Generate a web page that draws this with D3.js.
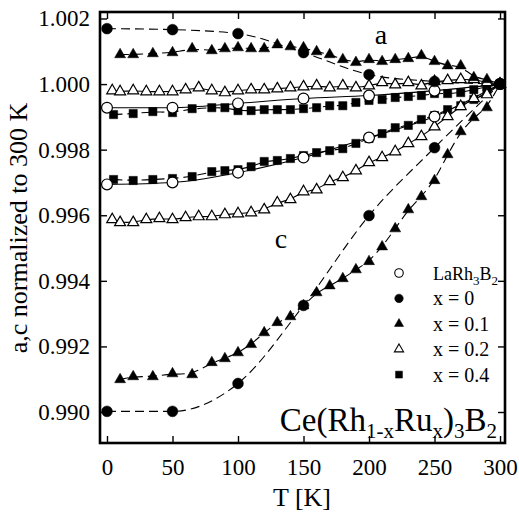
<!DOCTYPE html>
<html>
<head>
<meta charset="utf-8">
<script src="https://cdn.jsdelivr.net/npm/d3@7"></script>
<style>
  html, body { margin: 0; padding: 0; background: #fff; }
  svg text { font-family: "Liberation Serif", "Times New Roman", "DejaVu Serif", serif; fill: #000; }
</style>
</head>
<body>
<script>
// data (a = upper group, c = lower group)
const tCircles = [0, 50, 100, 150, 200, 250, 300];
const laA = [0.99928, 0.99928, 0.99941, 0.99956, 0.99965, 0.99980, 1.0];
const laC = [0.99694, 0.99700, 0.99730, 0.99776, 0.99837, 0.99901, 1.0];
const x0A = [1.00169, 1.00166, 1.00154, 1.00096, 1.00029, 1.00008, 1.0];
const x0C = [0.99002, 0.99002, 0.99087, 0.99325, 0.99599, 0.99806, 1.0];

const tX01 = [10, 20, 35, 50, 65, 80, 90, 100, 110, 120, 130, 140, 150, 160, 170, 180, 190, 200, 210, 220, 230, 240, 250, 260, 270, 280, 290, 300];
const x01A = [1.00090, 1.00090, 1.00093, 1.00096, 1.00108, 1.00102, 1.00108, 1.00111, 1.00108, 1.00108, 1.00120, 1.00114, 1.00111, 1.00099, 1.00090, 1.00075, 1.00066, 1.00075, 1.00069, 1.00075, 1.00078, 1.00087, 1.00069, 1.00056, 1.00056, 1.00020, 1.00014, 1.0];
const x01C = [0.99099, 0.99108, 0.99108, 0.99117, 0.99114, 0.99151, 0.99163, 0.99181, 0.99206, 0.99242, 0.99273, 0.99291, 0.99324, 0.99364, 0.99385, 0.99407, 0.99434, 0.99459, 0.99504, 0.99559, 0.99617, 0.99657, 0.99706, 0.99785, 0.99855, 0.99898, 0.99928, 1.0];

const tX02 = [4, 10, 20, 30, 40, 50, 60, 70, 80, 90, 100, 110, 120, 130, 140, 150, 160, 170, 180, 190, 200, 210, 220, 230, 240, 250, 260, 270, 280, 290, 300];
const x02A = [0.99980, 0.99977, 0.99980, 0.99977, 0.99977, 0.99977, 0.99983, 0.99989, 0.99980, 0.99974, 0.99980, 0.99983, 0.99983, 0.99986, 0.99989, 0.99992, 0.99995, 0.99989, 0.99995, 0.99989, 0.99995, 1.00005, 0.99998, 1.00005, 0.99995, 1.00008, 1.00011, 1.00014, 1.00014, 1.00005, 1.0];
const x02C = [0.99587, 0.99578, 0.99578, 0.99587, 0.99590, 0.99587, 0.99593, 0.99596, 0.99596, 0.99602, 0.99605, 0.99608, 0.99617, 0.99638, 0.99648, 0.99672, 0.99678, 0.99703, 0.99715, 0.99736, 0.99761, 0.99776, 0.99794, 0.99819, 0.99840, 0.99870, 0.99901, 0.99932, 0.99956, 0.99968, 1.0];

const tX04 = [5, 20, 35, 50, 65, 80, 90, 100, 110, 120, 130, 140, 150, 160, 170, 180, 190, 200, 210, 220, 230, 240, 250, 260, 270, 280, 290, 300];
const x04A = [0.99907, 0.99910, 0.99916, 0.99913, 0.99925, 0.99928, 0.99928, 0.99919, 0.99919, 0.99922, 0.99922, 0.99922, 0.99925, 0.99928, 0.99934, 0.99934, 0.99944, 0.99950, 0.99953, 0.99959, 0.99962, 0.99965, 0.99971, 0.99971, 0.99974, 0.99983, 0.99992, 1.0];
const x04C = [0.99709, 0.99706, 0.99709, 0.99712, 0.99718, 0.99733, 0.99736, 0.99739, 0.99748, 0.99764, 0.99767, 0.99773, 0.99782, 0.99791, 0.99797, 0.99803, 0.99819, 0.99834, 0.99849, 0.99867, 0.99874, 0.99892, 0.99904, 0.99922, 0.99934, 0.99953, 0.99974, 1.0];

const xTicks = [0, 50, 100, 150, 200, 250, 300];
const yTicks = [0.990, 0.992, 0.994, 0.996, 0.998, 1.000, 1.002];

const W = 519, H = 519;
const plot = {left: 100, top: 12, right: 505, bottom: 443};
const FONT = '"Liberation Serif", "Times New Roman", serif';

const svg = d3.select("body").append("svg")
  .attr("width", W).attr("height", H)
  .attr("font-family", FONT);

const x = d3.scaleLinear().domain([-5.34, 303.8]).range([plot.left, plot.right]);
const y = d3.scaleLinear().domain([0.989055, 1.002198]).range([plot.bottom, plot.top]);

// series: marker kind, line style
const series = [
  {t: tX04, a: x04A, c: x04C, sym: "square", dash: true, curve: d3.curveBasis},
  {t: tX02, a: x02A, c: x02C, sym: "otri", dash: false, curve: d3.curveBasis},
  {t: tCircles, a: laA, c: laC, sym: "ocircle", dash: false, curve: d3.curveMonotoneX},
  {t: tX01, a: x01A, c: x01C, sym: "tri", dash: true, curve: d3.curveBasis},
  {t: tCircles, a: x0A, c: x0C, sym: "circle", dash: true, curve: d3.curveMonotoneX},
];

function symPath(kind, scale) {
  const s = scale || 1;
  if (kind === "circle" || kind === "ocircle") return d3.symbol(d3.symbolCircle, 92 * s)();
  if (kind === "tri" || kind === "otri") return d3.symbol(d3.symbolTriangle, 52 * s)();
  return d3.symbol(d3.symbolSquare, 68 * s)();
}
function isOpen(kind) { return kind === "ocircle" || kind === "otri"; }

const linesLayer = svg.append("g");
const marksLayer = svg.append("g");

series.forEach(s => {
  ["a", "c"].forEach(k => {
    const pts = s.t.map((t, i) => [t, s[k][i]]);
    linesLayer.append("path")
      .datum(pts)
      .attr("fill", "none")
      .attr("stroke", "#000")
      .attr("stroke-width", 1.1)
      .attr("stroke-dasharray", s.dash ? "9,5" : null)
      .attr("d", d3.line().x(d => x(d[0])).y(d => y(d[1])).curve(s.curve));
  });
});

series.forEach(s => {
  ["a", "c"].forEach(k => {
    const pts = s.t.map((t, i) => [t, s[k][i]]);
    marksLayer.append("g").selectAll("path")
      .data(pts)
      .join("path")
      .attr("transform", d => `translate(${x(d[0])},${y(d[1])})`)
      .attr("d", symPath(s.sym))
      .attr("fill", isOpen(s.sym) ? "#fff" : "#000")
      .attr("stroke", "#000")
      .attr("stroke-width", isOpen(s.sym) ? 1.2 : 0.5);
  });
});

// axes (ticks inward on all four sides)
const fs = 23;
const bottomAxis = svg.append("g")
  .attr("transform", `translate(0,${plot.bottom})`)
  .call(d3.axisBottom(x).tickValues(xTicks).tickSize(-7).tickPadding(16).tickFormat(d3.format("d")));
const topAxis = svg.append("g")
  .attr("transform", `translate(0,${plot.top})`)
  .call(d3.axisTop(x).tickValues(xTicks).tickSize(-7).tickFormat(""));
const leftAxis = svg.append("g")
  .attr("transform", `translate(${plot.left},0)`)
  .call(d3.axisLeft(y).tickValues(yTicks).tickSize(-7).tickPadding(10).tickFormat(d3.format(".3f")));
const rightAxis = svg.append("g")
  .attr("transform", `translate(${plot.right},0)`)
  .call(d3.axisRight(y).tickValues(yTicks).tickSize(-7).tickFormat(""));

[bottomAxis, topAxis, leftAxis, rightAxis].forEach(g => {
  g.attr("font-family", FONT);
  g.select(".domain").remove();
  g.selectAll(".tick line").attr("stroke", "#000").attr("stroke-width", 1.4);
  g.selectAll(".tick text").attr("font-size", fs).attr("fill", "#000");
});

svg.append("rect")
  .attr("x", plot.left).attr("y", plot.top)
  .attr("width", plot.right - plot.left).attr("height", plot.bottom - plot.top)
  .attr("fill", "none").attr("stroke", "#000").attr("stroke-width", 2.6);

// axis titles
svg.append("text")
  .attr("transform", `translate(27,228) rotate(-90)`)
  .attr("text-anchor", "middle")
  .attr("font-size", 26)
  .text("a,c normalized to 300 K");

svg.append("text")
  .attr("x", 302).attr("y", 506)
  .attr("text-anchor", "middle")
  .attr("font-size", 26)
  .text("T [K]");

// group labels
svg.append("text").attr("x", 381).attr("y", 44).attr("text-anchor", "middle")
  .attr("font-size", 28).text("a");
svg.append("text").attr("x", 281).attr("y", 248).attr("text-anchor", "middle")
  .attr("font-size", 28).text("c");

// legend
const legendItems = [
  {sym: "ocircle", label: "LaRh", sub: true},
  {sym: "circle", label: "x = 0"},
  {sym: "tri", label: "x = 0.1"},
  {sym: "otri", label: "x = 0.2"},
  {sym: "square", label: "x = 0.4"},
];
const legend = svg.append("g");
legendItems.forEach((it, i) => {
  const cy = 273 + i * 25.4;
  legend.append("path")
    .attr("transform", `translate(399,${cy})`)
    .attr("d", symPath(it.sym, it.sym.includes("circle") ? 0.62 : 0.7))
    .attr("fill", isOpen(it.sym) ? "#fff" : "#000")
    .attr("stroke", "#000")
    .attr("stroke-width", isOpen(it.sym) ? 1.1 : 0.5);
  const t = legend.append("text").attr("x", 433).attr("y", cy + 7);
  if (it.sub) {
    t.attr("font-size", 18);
    t.append("tspan").text("LaRh");
    t.append("tspan").attr("dy", 5).attr("font-size", 13).text("3");
    t.append("tspan").attr("dy", -5).text("B");
    t.append("tspan").attr("dy", 5).attr("font-size", 13).text("2");
  } else {
    t.attr("font-size", 20).text(it.label);
  }
});

// compound label
const comp = svg.append("text").attr("x", 497).attr("y", 431)
  .attr("text-anchor", "end").attr("font-size", 33);
const subFs = 21;
comp.append("tspan").text("Ce(Rh");
comp.append("tspan").attr("dy", 7).attr("font-size", subFs).text("1-x");
comp.append("tspan").attr("dy", -7).text("Ru");
comp.append("tspan").attr("dy", 7).attr("font-size", subFs).text("x");
comp.append("tspan").attr("dy", -7).text(")");
comp.append("tspan").attr("dy", 7).attr("font-size", subFs).text("3");
comp.append("tspan").attr("dy", -7).text("B");
comp.append("tspan").attr("dy", 7).attr("font-size", subFs).text("2");
</script>
</body>
</html>
